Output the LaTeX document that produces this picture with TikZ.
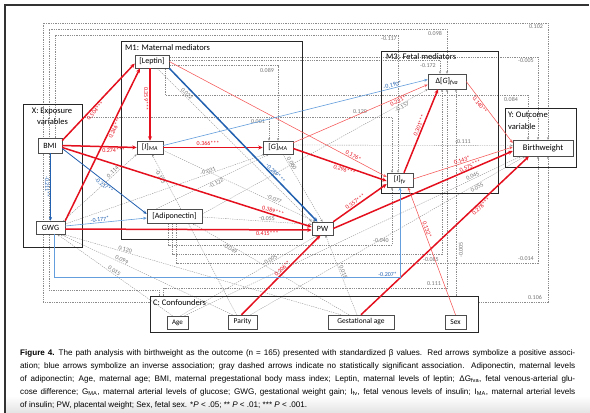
\documentclass[tikz,border=0pt]{standalone}
\usepackage{fontspec}
\setmainfont{Carlito}
\newfontfamily\capfont{Liberation Sans}
\usetikzlibrary{arrows.meta}
\pgfdeclarelayer{bg}
\pgfsetlayers{bg,main}
\definecolor{myred}{RGB}{228,16,30}
\definecolor{myredl}{RGB}{244,86,86}
\definecolor{myblue}{RGB}{34,96,176}
\definecolor{mybluel}{RGB}{100,158,220}
\newcommand\capline[1]{\makebox[555pt][s]{#1}}
\begin{document}
\begin{tikzpicture}[x=1pt,y=-1pt,
  nd/.style={draw=black!70, fill=white, line width=0.5pt, inner sep=0pt, font=\fontsize{8}{9}\selectfont},
  grp/.style={draw=black!85, line width=0.9pt, inner sep=0pt},
  ttl/.style={font=\fontsize{8.5}{9}\selectfont, inner sep=0pt},
  rth/.style={draw=myred, line width=1.5pt, -{Stealth[length=4.5pt,width=4pt]}},
  rtn/.style={draw=myredl, line width=0.55pt, -{Stealth[length=3.5pt,width=3pt]}},
  bth/.style={draw=myblue, line width=1.5pt, -{Stealth[length=4.5pt,width=4pt]}},
  bmd/.style={draw=myblue, line width=0.8pt, -{Stealth[length=3.8pt,width=3.2pt]}},
  btn/.style={draw=mybluel, line width=0.6pt, -{Stealth[length=3.5pt,width=3pt]}},
  gd/.style={draw=black!45, line width=0.35pt, dash pattern=on 1.3pt off 1pt, -{Stealth[length=2.6pt,width=2.2pt]}},
  lab/.style={font=\fontsize{6}{6}\selectfont, inner sep=0.8pt},
  rl/.style={lab, text=myred},
  bl/.style={lab, text=myblue},
  gl/.style={lab, text=black!55},
  captxt/.style={font=\capfont\fontsize{8.1}{9}\selectfont, inner sep=0pt, anchor=base west}
]
\useasboundingbox (0,0) rectangle (590,413);
\shade[top color=white,bottom color=gray!22] (5,396) rectangle (590,413);
\draw[line width=1.3pt, black!80] (5,413) -- (5,5) -- (589,5);

% ---------- nodes ----------
\node[nd, minimum width=24pt, minimum height=15pt] (bmi) at (50,145.5) {BMI};
\node[nd, minimum width=29pt, minimum height=13pt] (gwg) at (50.5,227.5) {GWG};
\node[nd, minimum width=34pt, minimum height=13pt] (leptin) at (152,61.5) {[Leptin]};
\node[nd, minimum width=26pt, minimum height=13pt] (ima) at (150,147.5) {[\textit{I}]\textsubscript{\textit{MA}}};
\node[nd, minimum width=30pt, minimum height=13pt] (gma) at (278,147.5) {[\textit{G}]\textsubscript{\textit{MA}}};
\node[nd, minimum width=55pt, minimum height=14pt] (adipo) at (174.5,216) {[Adiponectin]};
\node[nd, minimum width=21pt, minimum height=13pt] (pw) at (322.5,228.5) {PW};
\node[nd, minimum width=38pt, minimum height=15pt] (dg) at (447,81.5) {Δ[\textit{G}]\textsubscript{\textit{fva}}};
\node[nd, minimum width=26pt, minimum height=14pt] (ifv) at (400,180) {[\textit{I}]\textsubscript{\textit{fv}}};
\node[nd, minimum width=60pt, minimum height=16pt, font=\fontsize{8.5}{9}\selectfont] (bw) at (543,148) {Birthweight};
\node[nd, minimum width=21pt, minimum height=13pt, font=\fontsize{7}{8}\selectfont] (age) at (177.5,322.5) {Age};
\node[nd, minimum width=29pt, minimum height=14pt, font=\fontsize{7.5}{8}\selectfont] (parity) at (242.5,322) {Parity};
\node[nd, minimum width=66pt, minimum height=14pt, font=\fontsize{7.5}{8}\selectfont] (gage) at (361,322) {Gestational age};
\node[nd, minimum width=21pt, minimum height=14pt, font=\fontsize{7.5}{8}\selectfont] (sex) at (455.5,322) {Sex};

% ---------- group boxes ----------
\node[grp, minimum width=59pt, minimum height=143pt] (xbox) at (52.5,175.5) {};
\node[grp, minimum width=181pt, minimum height=198pt] (m1box) at (211.5,140) {};
\node[grp, minimum width=117pt, minimum height=142pt] (m3box) at (439.5,122) {};
\node[grp, minimum width=71pt, minimum height=59pt] (ybox) at (540.5,137.5) {};
\node[grp, minimum width=328pt, minimum height=36pt] (cbox) at (314,314) {};
\node[ttl] (xt1) at (52,111) {X: Exposure};
\node[ttl] (xt2) at (52.5,122) {variables};
\node[ttl, anchor=west] (m1t) at (125,48) {M1: Maternal mediators};
\node[ttl, anchor=west] (m3t) at (386,57) {M3: Fetal mediators};
\node[ttl, anchor=west] (yt1) at (508,115) {Y: Outcome};
\node[ttl, anchor=west] (yt2) at (508,127) {variable};
\node[ttl, anchor=west] (ct) at (153,303) {C: Confounders};

% ---------- gray dashed (non-significant) ----------
\begin{pgfonlayer}{bg}
\draw[gd] ([yshift=12pt]cbox.west) -| (43,23) -| ([xshift=5pt]bw.north);
\draw[gd] ([yshift=12pt]cbox.east) -| ([xshift=5pt]bw.south);
\draw[gd] ([xshift=10pt]cbox.north west) |- (49,290) -- (49,29) -| (dg.north);
\draw[gd] ([xshift=14pt]cbox.north west) |- (447,288) -- (dg.south);
\draw[gd] ([xshift=5pt]bmi.north) |- (398,35) -- ([xshift=-2pt]ifv.north);
\draw[gd] ([yshift=1.5pt]leptin.east) -| ([xshift=-7pt]dg.north);
\draw[gd] ([yshift=4.5pt]leptin.east) -| ([xshift=-5pt]bw.north);
\draw[gd] ([yshift=-4pt]leptin.east) -| (gma.north);
\draw[gd] ([yshift=58.5pt]xbox.east) -| ([xshift=-9pt]gma.north);
\draw[gd] ([yshift=58.5pt]xbox.east) -| ([xshift=-8pt]ifv.north);
\draw[gd] ([xshift=-4pt]leptin.south east) |- (528,95) -- ([xshift=-15pt]bw.north);
\draw[gd] ([yshift=2.5pt]gma.east) -- ([yshift=2.5pt]bw.west);
\draw[gd] ([xshift=-2pt]gwg.north east) -- node[gl,sloped,above,pos=.7]{0.114} (ima.south west);
\draw[gd] ([xshift=-6pt]parity.north) -- node[gl,sloped,below,pos=.87]{-0.123} ([xshift=2pt]ima.south);
\draw[gd] ([yshift=3.5pt]gwg.east) -- node[gl,sloped,above,pos=.72]{-0.031} ([xshift=2pt]gma.south west);
\draw[gd] ([xshift=-18pt]adipo.north) -- node[gl,sloped,below,pos=.52]{-0.122} ([xshift=6pt]gma.south west);
\draw[gd] ([yshift=2pt]adipo.east) -- node[gl,sloped,below,pos=.88]{-0.157} (dg.south west);
\draw[gd] ([yshift=-3pt]ima.east) -- node[gl,sloped,above,pos=.72]{-0.077} ([xshift=-7pt]pw.north);
\draw[gd] ([xshift=5pt]gma.south) -- node[gl,sloped,above,pos=.16]{0.060} (pw.north);
\draw[gd] ([xshift=5pt]leptin.south) -- node[gl,sloped,above,pos=.18]{0.022} (pw.north west);
\draw[gd] ([yshift=-1pt]adipo.east) -- node[gl,sloped,above,pos=.59]{-0.055} ([yshift=4pt]pw.west);
\draw[gd] ([xshift=-12pt]gage.north) -- node[gl,sloped,below,pos=.75]{-0.049} ([xshift=18pt]adipo.south);
\draw[gd] ([xshift=3pt]age.north) -- node[gl,sloped,above,pos=.67]{0.005} ([xshift=-5pt]pw.south);
\draw[gd] ([xshift=-4pt]gage.north) -- node[gl,sloped,above,pos=.52]{0.018} ([xshift=3pt]pw.south);
\draw[gd] ([xshift=-20pt]gage.north) -- node[gl,sloped,above,pos=.78]{0.120} ([xshift=-2pt]gwg.south east);
\draw[gd] ([xshift=-10pt]parity.north) -- node[gl,sloped,above,pos=.65]{0.099} ([xshift=-5pt]gwg.south east);
\draw[gd] ([xshift=-5pt]age.north) -- node[gl,sloped,above,pos=.52]{0.015} ([xshift=-8pt]gwg.south east);
\draw[gd] ([xshift=7pt]age.north) -- node[gl,sloped,above,pos=.86]{0.045} ([xshift=-22pt]bw.south);
\draw[gd] ([xshift=8pt]parity.north) -- node[gl,sloped,below,pos=.82]{0.055} ([xshift=-18pt]bw.south);
\draw[gd] ([xshift=-6pt]adipo.south) |- (392,245) -- ([xshift=-8pt]ifv.south);
\draw[gd] ([xshift=-2pt]adipo.south) |- (442,254) -- ([xshift=-5pt]dg.south);
\draw[gd] ([xshift=2pt]adipo.south) |- (538,263) -- ([xshift=-5pt]bw.south);
\draw[gd] ([xshift=142pt]cbox.north) -- ([xshift=9pt]dg.south);
\node[gl] (l0102) at (536,27) {0.102};
\node[gl] (l0106) at (535,297) {0.106};
\node[gl] (l0098) at (435,33) {0.098};
\node[gl] (l0111b) at (434,284) {0.111};
\node[gl] (l0117) at (389,39) {-0.117};
\node[gl] (l0172) at (428,66) {-0.172};
\node[gl] (l0005t) at (526,61) {-0.005};
\node[gl] (l0089) at (267,70) {0.089};
\node[gl] (l0001) at (258,122) {0.001};
\node[gl] (l0120t) at (360,112) {0.120};
\node[gl] (l0084) at (511,99) {0.084};
\node[gl] (l0111) at (463,142) {-0.111};
\node[gl] (l0040) at (381,241) {-0.040};
\node[gl] (l0085) at (431,259) {-0.085};
\node[gl] (l0014) at (526,259) {-0.014};
\node[gl, rotate=90] (l0005b) at (461,250) {-0.005};
\end{pgfonlayer}

% ---------- significant paths ----------
\draw[rth] ([yshift=5pt]bmi.east) -- node[rl,sloped,below,pos=.42]{0.504***} ([yshift=-2pt]leptin.west);
\draw[rth] (gwg.north east) -- node[rl,sloped,below,pos=.62]{0.246***} ([xshift=-12pt]leptin.south);
\draw[rth] ([xshift=-2pt]leptin.south) -- node[rl,sloped,below,pos=.42]{0.359***} (ima.north);
\draw[rth] (bmi.east) -- node[rl,below,pos=.69]{0.274***} (ima.west);
\draw[rth] (ima.east) -- node[rl,above,pos=.45]{0.366***} (gma.west);
\draw[rth] ([yshift=-2pt]bmi.east) -- node[rl,sloped,above,pos=.84]{0.389***} ([yshift=1.5pt]pw.west);
\draw[rth] ([yshift=-1.5pt]gwg.east) -- node[rl,below,pos=.82]{0.415***} ([yshift=-1.5pt]pw.west);
\draw[rth] ([yshift=-1pt]gma.east) -- node[rl,sloped,below,pos=.56]{0.296***} ([yshift=-1pt]ifv.west);
\draw[rth] (pw.north east) -- node[rl,sloped,above,pos=.45]{0.357***} ([yshift=-4pt]ifv.west);
\draw[rth] ([xshift=4pt]ifv.north) -- node[rl,sloped,above,pos=.55]{0.301***} ([xshift=-9pt]dg.south);
\draw[rth] (pw.east) -- node[rl,sloped,above,pos=.77,inner sep=0.3pt]{0.575***} ([yshift=-3pt]bw.west);
\draw[rth] (gage.north) -- node[rl,sloped,below,pos=.7]{0.278***} ([xshift=-14pt]bw.south);
\draw[rth] ([xshift=-1pt]parity.north) -- node[rl,sloped,above,pos=.55]{0.206**} ([xshift=-2pt]pw.south);
\draw[rtn] (leptin.east) -- node[rl,sloped,above,pos=.84]{0.176*} ([yshift=3pt]ifv.west);
\draw[rtn] ([yshift=-2pt]gma.north east) -- node[rl,sloped,below,pos=.77]{0.221*} ([yshift=-3pt]dg.west);
\draw[rtn] (dg.east) -- node[rl,sloped,below,pos=.35]{0.140**} ([yshift=5pt]bw.west);
\draw[rtn] ([yshift=1pt]ifv.east) -- node[rl,sloped,above,pos=.5]{0.143*} ([yshift=1pt]bw.west);
\draw[rtn] (sex.north) -- node[rl,sloped,above,pos=.66]{0.132*} ([xshift=8pt]ifv.south);
\draw[bth] (leptin.south east) -- node[bl,sloped,above,pos=.7]{-0.289***} ([xshift=-5pt]pw.north);
\draw[bmd] ([yshift=-3pt]bmi.east) -- node[bl,sloped,below,pos=.52]{-0.217**} ([yshift=2pt]adipo.west);
\draw[btn] ([yshift=1.5pt]gwg.east) -- node[bl,sloped,above,pos=.43]{-0.177*} ([yshift=-2pt]adipo.west);
\draw[bmd] ([xshift=0.5pt]bmi.south) -- node[bl,sloped,below,pos=.5]{-0.211**} (gwg.north);
\draw[btn] ([yshift=2pt]ima.east) -- node[bl,sloped,above,pos=.87]{-0.190*} ([yshift=2pt]dg.west);
\draw[btn] ([xshift=4pt]gwg.south) -- ++(0,43) -| node[bl,pos=.5,above left,xshift=-2pt]{-0.207*} (ifv.south);

% ---------- caption ----------
\node[captxt] (c1) at (20,355) {\capline{\textbf{Figure 4.}\enspace The path analysis with birthweight as the outcome (n = 165) presented with standardized β values. Red arrows symbolize a positive associ-}};
\node[captxt] (c2) at (20,368) {\capline{ation; blue arrows symbolize an inverse association; gray dashed arrows indicate no statistically significant association. Adiponectin, maternal levels}};
\node[captxt] (c3) at (20,381) {\capline{of adiponectin; Age, maternal age; BMI, maternal pregestational body mass index; Leptin, maternal levels of leptin; ΔG\textsubscript{fva}, fetal venous-arterial glu-}};
\node[captxt] (c4) at (20,394) {\capline{cose difference; G\textsubscript{MA}, maternal arterial levels of glucose; GWG, gestational weight gain; I\textsubscript{fv}, fetal venous levels of insulin; I\textsubscript{MA}, maternal arterial levels}};
\node[captxt] (c5) at (20,407) {of insulin; PW, placental weight; Sex, fetal sex. *\textit{P} < .05; ** \textit{P} < .01; *** \textit{P} < .001.};
\end{tikzpicture}
\end{document}
